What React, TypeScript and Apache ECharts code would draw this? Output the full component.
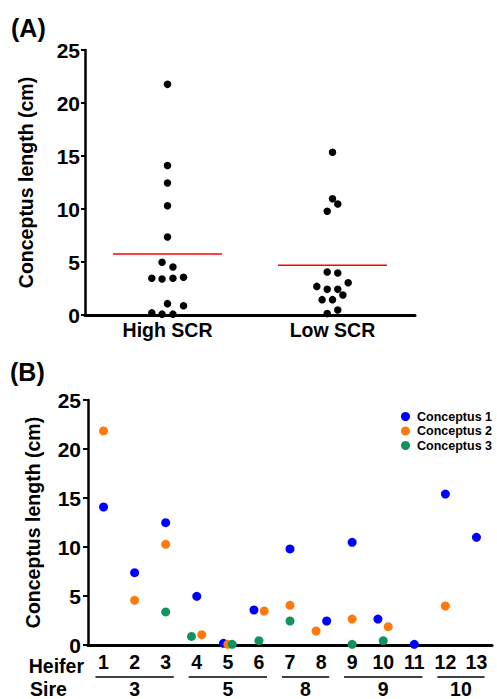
import React, { useEffect, useRef } from "react";
import * as echarts from "echarts";

const FONT = '"Liberation Sans", Arial, Helvetica, sans-serif';

// Panel A
const groupsA = ["High SCR", "Low SCR"];
// [jitter offset from category centre, length cm]
const highSCR: [number, number][] = [
  [0, 21.76], [0, 14.1], [0, 12.45], [0, 10.3], [0, 7.36],
  [-0.033, 4.97], [0.033, 4.53],
  [-0.095, 3.46], [-0.033, 3.4], [0.033, 3.46], [0.097, 3.56],
  [0, 1.07], [0.097, 0.88],
  [-0.095, 0.2], [-0.033, 0.08], [0.033, 0.08],
];
const lowSCR: [number, number][] = [
  [0, 15.35], [0, 10.97], [0.032, 10.47], [-0.032, 9.78],
  [-0.032, 4.06], [0.032, 3.96],
  [-0.095, 2.7], [-0.032, 2.42], [0.032, 2.42], [0.095, 3.05],
  [0.063, 1.89], [-0.063, 1.45], [0, 1.45],
  [0.032, 0.47], [-0.032, 0.13],
];
const meanA = [5.75, 4.7];

// Panel B
const heifers = ["1", "2", "3", "4", "5", "6", "7", "8", "9", "10", "11", "12", "13"];
const conceptus1: [number, number][] = [
  [1, 14.08], [2, 7.38], [3, 12.48], [4, 4.97], [4.86, 0.17], [5.84, 3.57],
  [7, 9.8], [8.18, 2.45], [9, 10.48], [9.83, 2.65], [11, 0.07], [12, 15.4], [13, 10.99],
];
const conceptus2: [number, number][] = [
  [1, 21.84], [2, 4.56], [3, 10.27], [4.16, 1.05], [5, 0.07], [6.17, 3.47],
  [7, 4.05], [7.84, 1.43], [9, 2.65], [10.16, 1.87], [12, 3.98],
];
const conceptus3: [number, number][] = [
  [3, 3.37], [3.83, 0.88], [5.14, 0.07], [6, 0.44], [7, 2.45], [9, 0.07], [10, 0.44],
];
const sires = [
  { label: "3", from: 1, to: 3 },
  { label: "5", from: 4, to: 6 },
  { label: "8", from: 7, to: 8 },
  { label: "9", from: 9, to: 11 },
  { label: "10", from: 12, to: 13 },
];

const yTicks = { min: 0, max: 25, interval: 5 };

export default function App() {
  const ref = useRef<HTMLDivElement>(null);
  useEffect(() => {
    document.body.style.margin = "0";
    if (!ref.current) return;
    const chart = echarts.init(ref.current, undefined, { renderer: "svg" });
    const labelStyle = { color: "#000", fontWeight: "bold", fontFamily: FONT };
    const option: any = {
      animation: false,
      backgroundColor: "#fff",
      textStyle: { fontFamily: FONT },
      grid: [
        { left: 85, right: 82, top: 50, bottom: 384 },
        { left: 88, right: 5, top: 400, bottom: 54 },
      ],
      xAxis: [
        {
          gridIndex: 0, type: "category", data: groupsA,
          axisLine: { lineStyle: { color: "#000", width: 3 } },
          axisTick: { show: false },
          axisLabel: { ...labelStyle, fontSize: 19.5, margin: 5 },
        },
        { gridIndex: 0, type: "value", min: 0.5, max: 2.5, show: false },
        {
          gridIndex: 1, type: "category", data: heifers,
          axisLine: { lineStyle: { color: "#000", width: 3 } },
          axisTick: { alignWithLabel: true, length: 4, lineStyle: { color: "#000", width: 2 } },
          axisLabel: { ...labelStyle, fontSize: 19.5, margin: 7, interval: 0 },
        },
        { gridIndex: 1, type: "value", min: 0.5, max: 13.5, show: false },
      ],
      yAxis: [
        {
          gridIndex: 0, type: "value", ...yTicks,
          axisLine: { show: true, lineStyle: { color: "#000", width: 2.5 } },
          axisTick: { show: true, length: 4, lineStyle: { color: "#000", width: 2 } },
          splitLine: { show: false },
          axisLabel: { ...labelStyle, fontSize: 21, margin: 5 },
          name: "Conceptus length (cm)", nameLocation: "middle", nameGap: 49,
          nameTextStyle: { ...labelStyle, fontSize: 19.5 },
        },
        {
          gridIndex: 1, type: "value", ...yTicks,
          axisLine: { show: true, lineStyle: { color: "#000", width: 2.5 } },
          axisTick: { show: true, length: 5, lineStyle: { color: "#000", width: 2 } },
          splitLine: { show: false },
          axisLabel: { ...labelStyle, fontSize: 21, margin: 7 },
          name: "Conceptus length (cm)", nameLocation: "middle", nameGap: 45,
          nameTextStyle: { ...labelStyle, fontSize: 19.5 },
        },
      ],
      legend: {
        orient: "vertical", left: 396, top: 405,
        itemWidth: 9, itemHeight: 9, itemGap: 1.5, icon: "circle",
        data: ["Conceptus 1", "Conceptus 2", "Conceptus 3"],
        textStyle: { ...labelStyle, fontSize: 12.5, lineHeight: 12, padding: [0, 0, 0, 2] },
      },
      graphic: [
        { type: "text", x: 11, y: 28, style: { text: "(A)", fill: "#000", fontSize: 25, fontWeight: "bold", fontFamily: FONT, verticalAlign: "middle" } },
        { type: "text", x: 10, y: 372, style: { text: "(B)", fill: "#000", fontSize: 25, fontWeight: "bold", fontFamily: FONT, verticalAlign: "middle" } },
        { type: "text", x: 84, y: 666, style: { text: "Heifer", fill: "#000", fontSize: 19.5, fontWeight: "bold", fontFamily: FONT, align: "right", verticalAlign: "middle" } },
        { type: "text", x: 30, y: 689, style: { text: "Sire", fill: "#000", fontSize: 19.5, fontWeight: "bold", fontFamily: FONT, align: "left", verticalAlign: "middle" } },
      ],
      series: [
        {
          type: "scatter", xAxisIndex: 1, yAxisIndex: 0, symbolSize: 7.5,
          itemStyle: { color: "#000", opacity: 1 },
          data: highSCR.map(([o, v]) => [1 + o, v]),
        },
        {
          type: "scatter", xAxisIndex: 1, yAxisIndex: 0, symbolSize: 7.5,
          itemStyle: { color: "#000", opacity: 1 },
          data: lowSCR.map(([o, v]) => [2 + o, v]),
        },
        ...meanA.map((m, i) => ({
          type: "line", xAxisIndex: 1, yAxisIndex: 0, symbol: "none",
          lineStyle: { color: "#ff0000", width: 1.5 },
          data: [[i + 1 - 0.33, m], [i + 1 + 0.33, m]],
        })),
        {
          name: "Conceptus 1", type: "scatter", xAxisIndex: 3, yAxisIndex: 1, symbolSize: 9,
          itemStyle: { color: "#0000ff", opacity: 1 }, data: conceptus1,
        },
        {
          name: "Conceptus 2", type: "scatter", xAxisIndex: 3, yAxisIndex: 1, symbolSize: 9,
          itemStyle: { color: "#ff7a0e", opacity: 1 }, data: conceptus2,
        },
        {
          name: "Conceptus 3", type: "scatter", xAxisIndex: 3, yAxisIndex: 1, symbolSize: 9,
          itemStyle: { color: "#10945c", opacity: 1 }, data: conceptus3,
        },
        {
          type: "custom", xAxisIndex: 3, yAxisIndex: 1, clip: false, silent: true,
          data: sires.map((s) => [s.from - 0.26, s.to + 0.26, 0]),
          encode: { x: [0, 1], y: 2 },
          renderItem: (params: any, api: any) => {
            const p0 = api.coord([api.value(0), 0]);
            const p1 = api.coord([api.value(1), 0]);
            const label = sires[params.dataIndex].label;
            return {
              type: "group",
              children: [
                { type: "line", shape: { x1: p0[0], y1: p0[1] + 32, x2: p1[0], y2: p1[1] + 32 }, style: { stroke: "#000", lineWidth: 1.5 } },
                {
                  type: "text", x: (p0[0] + p1[0]) / 2, y: p0[1] + 44,
                  style: { text: label, fill: "#000", fontSize: 19.5, fontWeight: "bold", fontFamily: FONT, align: "center", verticalAlign: "middle" },
                },
              ],
            };
          },
        },
      ],
    };
    chart.setOption(option);
    return () => chart.dispose();
  }, []);
  return <div ref={ref} style={{ width: 497, height: 699 }} />;
}
